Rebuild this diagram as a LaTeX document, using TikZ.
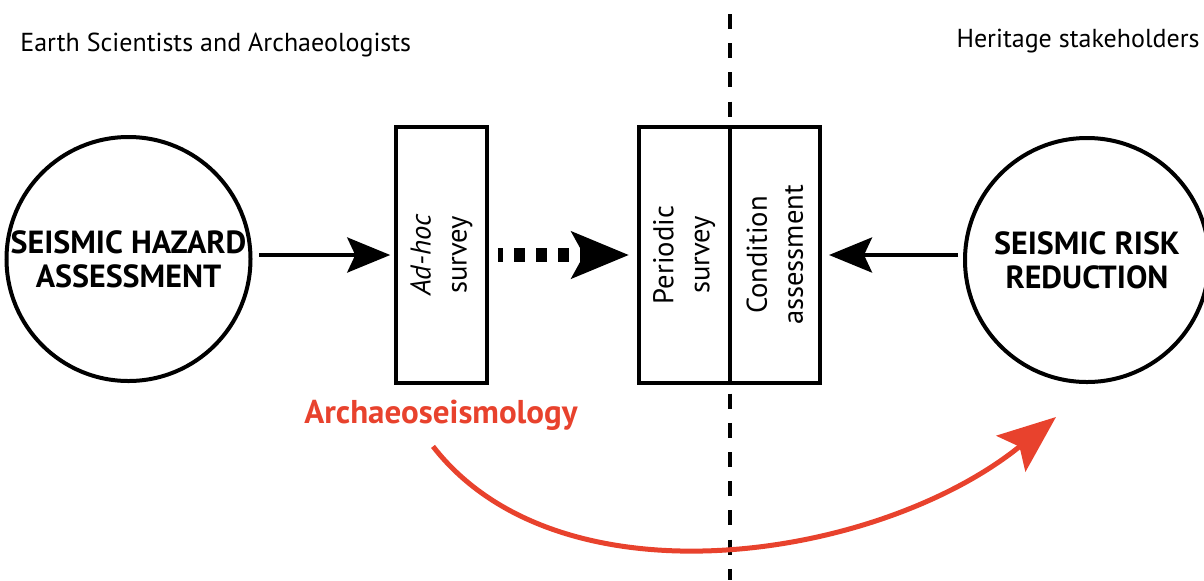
\documentclass[tikz,border=0pt]{standalone}
\usepackage{fontspec}
\setmainfont{PT Sans}
\usetikzlibrary{arrows.meta}
\definecolor{seisred}{RGB}{232,66,45}

\begin{document}
\begin{tikzpicture}[x=0.5pt,y=-0.5pt]
\tikzstyle{every node}+=[inner sep=0pt]
\tikzstyle{ring}=[draw,circle,line width=2pt,minimum size=122pt,align=center,font=\fontsize{16}{17}\selectfont\bfseries]
\tikzstyle{slab}=[draw,rectangle,line width=2pt,minimum width=128pt,minimum height=45.25pt,rotate=90,align=center,font=\fontsize{14.3}{18}\selectfont]
\tikzstyle{side}=[font=\fontsize{13}{15}\selectfont]
\tikzstyle{arr}=[line width=2pt,-{Stealth[length=21.5pt,width=17.5pt,inset=4pt]}]
\tikzstyle{dotarr}=[line width=7pt,dash pattern=on 5.25pt off 5.75pt,dash phase=2.75pt,-{Stealth[length=28.5pt,width=23pt,inset=6pt]}]
\tikzstyle{redarr}=[seisred,line width=2.5pt,-{Stealth[length=29pt,width=23pt,inset=5.5pt]}]
\useasboundingbox (0,0) rectangle (1204,580);
\draw [line width=1.75pt,dash pattern=on 7.5pt off 7.1pt] (730,14) -- (730,580);
\node [side,anchor=base west] (earth) at (20,51) {Earth Scientists and Archaeologists};
\node [side,anchor=base east] (heritage) at (1200,47) {Heritage stakeholders};
\node [ring] (hazard) at (128.5,259) {SEISMIC HAZARD\\ASSESSMENT};
\node [ring] (risk) at (1087,260) {SEISMIC RISK\\REDUCTION};
\node [slab] (adhoc) at (441.5,255) {\textit{Ad-hoc}\\survey};
\node [slab] (periodic) at (684.25,255) {Periodic\\survey};
\node [slab] (condition) at (774.75,255) {Condition\\assessment};
\node [text=seisred,font=\fontsize{16.5}{18}\selectfont\bfseries,anchor=base] (archaeo) at (441,423) {Archaeoseismology};
\coordinate (redtip) at (1056,417);
\draw [arr,shorten <=3.25pt,shorten >=2pt] (hazard.east |- adhoc) -- (adhoc);
\draw [dotarr,shorten <=4.5pt,shorten >=4pt] (adhoc) -- (periodic);
\draw [arr,shorten <=2.5pt,shorten >=3.5pt] (risk.west |- condition) -- (condition);
\draw [redarr] ([shift={(-8,16)}]archaeo.south) .. controls (560,610) and (880,560) .. (redtip);
\end{tikzpicture}
\end{document}
